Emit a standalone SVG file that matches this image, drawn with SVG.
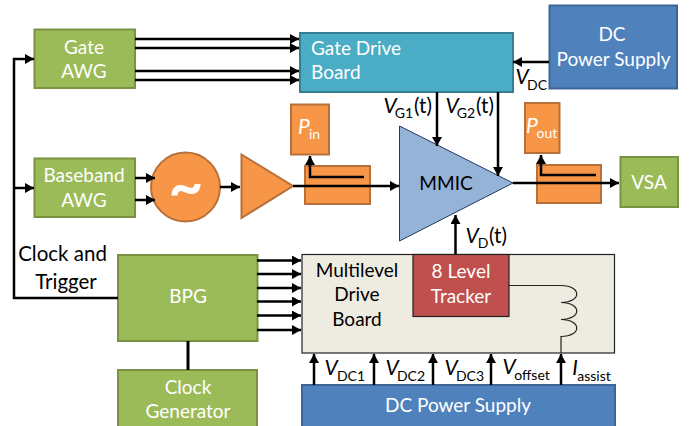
<svg xmlns="http://www.w3.org/2000/svg" width="693" height="426" viewBox="0 0 693 426">
<style>
text{font-family:Lato,"Liberation Sans",sans-serif;font-size:19px;text-anchor:middle;fill:#000}
.w{fill:#fff}
.s{font-size:14px}
.i{font-style:italic;font-size:21px}
.l{font-size:20.5px}
.g{fill:#9bbb59;stroke:#7a9343;stroke-width:2}
.b{fill:#4f81bd;stroke:#3d6596;stroke-width:2}
.o{fill:#f79646;stroke:#b8703a;stroke-width:2}
.c{fill:none;stroke:#000;stroke-width:2.5}
.t{fill:none;stroke:#222;stroke-width:1.2}
</style>
<defs>
<marker id="a" markerUnits="userSpaceOnUse" markerWidth="10" markerHeight="10" refX="9" refY="5" orient="auto"><path d="M0 0L9 5L0 10Z" fill="#000"/></marker>
</defs>
<g id="gate-awg"><rect class="g" x="34.500" y="29.500" width="100.500" height="58.500"/><text class="w" x="84" y="54">Gate</text><text class="w" x="84" y="78">AWG</text></g>
<g id="baseband-awg"><rect class="g" x="34.500" y="158.500" width="100.500" height="58.500"/><text class="w" x="84" y="182">Baseband</text><text class="w" x="84" y="207">AWG</text></g>
<g id="gate-drive"><rect x="300" y="33" width="213" height="59" fill="#4bacc6" stroke="#357f94" stroke-width="2"/><text class="w" x="311" y="55" style="text-anchor:start">Gate Drive</text><text class="w" x="311" y="79" style="text-anchor:start">Board</text></g>
<g id="dc-top"><rect class="b" x="549.500" y="5.500" width="127.500" height="83"/><text class="w" x="612" y="41">DC</text><text class="w" x="613.500" y="66">Power Supply</text></g>
<g id="pin"><rect class="o" x="291" y="104.500" width="38" height="50"/><text class="w i" x="304" y="134">P</text><text class="w s" x="314.500" y="139">in</text></g>
<g id="pout"><rect class="o" x="525" y="103" width="34.500" height="50"/><text class="w i" x="532" y="133">P</text><text class="w s" x="547" y="138">out</text></g>
<g id="coupler-in"><rect class="o" x="305" y="166" width="65" height="38"/></g>
<g id="coupler-out"><rect class="o" x="537" y="165" width="64" height="38"/></g>
<g id="vsa"><rect class="g" x="620.500" y="157" width="57.500" height="50"/><text class="w" x="649" y="189">VSA</text></g>
<g id="mmic"><path d="M399.500 126L513 183L399.500 241Z" fill="#95b3d7" stroke="#1f3a5c" stroke-width="1"/><text x="446" y="190">MMIC</text></g>
<g id="amp"><path class="o" d="M241.500 154.500L293 186L241.500 218Z"/></g>
<g id="mixer"><circle class="o" cx="185.500" cy="187" r="34.500"/><text class="w" x="186" y="207" style="font-size:60px;font-weight:bold">~</text></g>
<g id="bpg"><rect class="g" x="118" y="255" width="139.500" height="86"/><text class="w" x="188" y="303">BPG</text></g>
<g id="clock"><rect class="g" x="118" y="370" width="139" height="60"/><text class="w" x="188" y="394">Clock</text><text class="w" x="188" y="418">Generator</text></g>
<g id="multilevel"><rect x="302" y="254.500" width="312.500" height="98.500" fill="#eeece1" stroke="#222" stroke-width="1.200"/><text x="357" y="277">Multilevel</text><text x="357" y="301">Drive</text><text x="357" y="326">Board</text></g>
<g id="tracker"><rect x="413" y="254.500" width="96" height="62" fill="#c0504d" stroke="#222" stroke-width="1.200"/><text class="w" x="461" y="278">8 Level</text><text class="w" x="461" y="303">Tracker</text></g>
<g id="inductor"><path class="t" d="M509 285.500H561C582 285.500 582 302.500 561 302.500C582 302.500 582 319.500 561 319.500C582 319.500 582 336.500 561 336.500V353"/></g>
<g id="dc-bottom"><rect class="b" x="302" y="385" width="313" height="45"/><text class="w" x="458" y="412">DC Power Supply</text></g>
<g id="connectors">
<path class="c" marker-end="url(#a)" d="M118 298H14V59H34"/>
<path class="c" marker-end="url(#a)" d="M14 188H34"/>
<path class="c" marker-end="url(#a)" d="M135 39H299"/><path class="c" marker-end="url(#a)" d="M135 48H299"/><path class="c" marker-end="url(#a)" d="M135 71H299"/><path class="c" marker-end="url(#a)" d="M135 80H299"/>
<path class="c" marker-end="url(#a)" d="M135 178H155"/><path class="c" marker-end="url(#a)" d="M135 200H155"/>
<path class="c" marker-end="url(#a)" d="M220 187H240"/>
<path class="c" marker-end="url(#a)" d="M293 186H399"/>
<path class="c" marker-end="url(#a)" d="M364 177H310V156"/>
<path class="c" marker-end="url(#a)" d="M596 175H541V155"/>
<path class="c" marker-end="url(#a)" d="M513 183H619"/>
<path class="c" marker-end="url(#a)" d="M437 92V146"/><path class="c" marker-end="url(#a)" d="M498 92V176"/>
<path class="c" marker-end="url(#a)" d="M549 62H513"/>
<path class="c" marker-end="url(#a)" d="M455.500 254V215"/>
<path class="c" marker-end="url(#a)" d="M314 385V354"/><path class="c" marker-end="url(#a)" d="M374 385V354"/><path class="c" marker-end="url(#a)" d="M433 385V354"/><path class="c" marker-end="url(#a)" d="M491 385V354"/><path class="c" marker-end="url(#a)" d="M561 385V354"/>
<path class="c" marker-end="url(#a)" d="M257 260.500H301"/><path class="c" marker-end="url(#a)" d="M257 274H301"/><path class="c" marker-end="url(#a)" d="M257 288H301"/><path class="c" marker-end="url(#a)" d="M257 301.500H301"/><path class="c" marker-end="url(#a)" d="M257 315.500H301"/><path class="c" marker-end="url(#a)" d="M257 330H301"/>
<path class="c" style="stroke-width:3" d="M188 341V370"/>
</g>
<g id="labels">
<text class="l" x="62.500" y="261">Clock and</text><text class="l" x="66" y="289">Trigger</text>
<text class="i" x="390" y="113">V</text><text class="s" x="404" y="118">G1</text><text class="l" x="423" y="113">(t)</text>
<text class="i" x="452" y="113">V</text><text class="s" x="466" y="118">G2</text><text class="l" x="485" y="113">(t)</text>
<text class="i" x="522" y="84">V</text><text class="s" x="537" y="90">DC</text>
<text class="i" x="472" y="243">V</text><text class="s" x="483" y="248">D</text><text class="l" x="498" y="243">(t)</text>
<text class="i" x="331" y="375">V</text><text class="s" x="351" y="381">DC1</text>
<text class="i" x="392" y="375">V</text><text class="s" x="411" y="381">DC2</text>
<text class="i" x="451" y="375">V</text><text class="s" x="470" y="381">DC3</text>
<text class="i" x="509" y="374">V</text><text class="s" x="532" y="380">offset</text>
<text class="i" x="575" y="375">I</text><text class="s" x="594" y="381">assist</text>
</g>
</svg>
